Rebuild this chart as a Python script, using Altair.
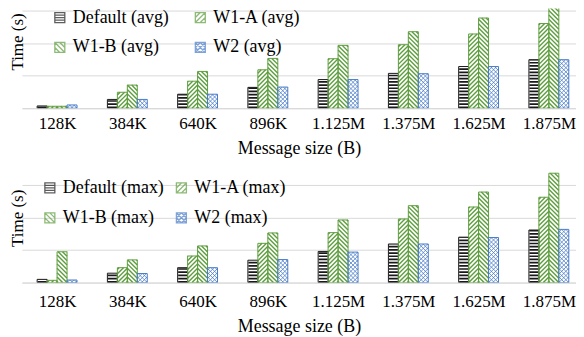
import math
import altair as alt
import pandas as pd

# ---------------- data ----------------
sizes = ["128K", "384K", "640K", "896K", "1.125M", "1.375M", "1.625M", "1.875M"]
series_avg = ["Default (avg)", "W1-A (avg)", "W1-B (avg)", "W2 (avg)"]
series_max = ["Default (max)", "W1-A (max)", "W1-B (max)", "W2 (max)"]

avg_default = [0.07, 0.27, 0.43, 0.64, 0.88, 1.07, 1.28, 1.49]
avg_w1a = [0.06, 0.49, 0.83, 1.18, 1.52, 1.95, 2.28, 2.60]
avg_w1b = [0.06, 0.71, 1.13, 1.53, 1.93, 2.35, 2.77, 3.35]
avg_w2 = [0.10, 0.27, 0.43, 0.65, 0.88, 1.06, 1.28, 1.49]

max_default = [0.10, 0.29, 0.46, 0.69, 0.96, 1.19, 1.40, 1.62]
max_w1a = [0.07, 0.46, 0.82, 1.21, 1.54, 1.96, 2.33, 2.63]
max_w1b = [0.95, 0.70, 1.13, 1.53, 1.93, 2.37, 2.79, 3.37]
max_w2 = [0.08, 0.28, 0.46, 0.71, 0.94, 1.19, 1.39, 1.64]

y_ticks = [0, 1, 2, 3]

# ---------------- style ----------------
FONT = "Liberation Serif, Times New Roman, DejaVu Serif, serif"
GRID = "#d9d9d9"
BLACK = "#1a1a1a"
GREEN = "#5e9e3e"
BLUE = "#4a7cc9"
SERIES_COLORS = [BLACK, GREEN, GREEN, BLUE]

SQ = "M-1,-1H1V1H-1Z"
UP = " M-1,0L0,-1 M-1,1L1,-1 M0,1L1,0"
DOWN = " M-1,0L0,1 M-1,-1L1,1 M0,-1L1,0"
HORIZ = " M-1,-0.5H1 M-1,0H1 M-1,0.5H1"
SHAPES = [SQ + HORIZ, SQ + UP, SQ + DOWN, SQ + UP + DOWN]

W = 556
PX_X = 70.5
X_MIN = -0.5
X_MAX = X_MIN + W / PX_X
BAR_PX = 10.0


def diag_segments(w, h, pitch, rising):
    segs = []
    if h <= 0:
        return segs
    for k in range(math.ceil(-w / pitch), math.floor(h / pitch) + 1):
        c = k * pitch
        if rising:
            u0, u1 = max(0.0, -c), min(w, h - c)
            if u1 - u0 > 0.05:
                segs.append((u0, u0 + c, u1, u1 + c))
        else:
            u0, u1 = max(0.0, w + c - h), min(w, w + c)
            if u1 - u0 > 0.05:
                segs.append((u0, w - u0 + c, u1, w - u1 + c))
    return segs


PATTERNS = {1: [(True, 4.4)], 2: [(False, 4.4)], 3: [(True, 4.2), (False, 4.2)]}


def build(series, values, y_max, height):
    py = height / y_max
    bw = BAR_PX / PX_X
    bar_rows, seg_rows = [], []
    for j, (name, vals) in enumerate(zip(series, values)):
        for i, v in enumerate(vals):
            xc = i + (j - 1.5) * bw
            x0 = xc - bw / 2
            bar_rows.append({"series": name, "kind": j, "size": sizes[i], "xc": xc,
                             "x0": x0, "x1": xc + bw / 2, "v": v, "base": 0.0, "hide": -10.0})
            for rising, pitch in PATTERNS.get(j, []):
                for (u0, y0, u1, y1) in diag_segments(BAR_PX, v * py, pitch, rising):
                    seg_rows.append({"series": name, "kind": j,
                                     "sx": x0 + u0 / PX_X, "sy": y0 / py,
                                     "sx2": x0 + u1 / PX_X, "sy2": y1 / py})
    return pd.DataFrame(bar_rows), pd.DataFrame(seg_rows)


def panel(series, values, y_max, height, lx, ly, colpad, title_y, label_pad):
    bars, segs = build(series, values, y_max, height)
    xs = alt.Scale(domain=[X_MIN, X_MAX], nice=False, zero=False)
    ys = alt.Scale(domain=[0, y_max], nice=False, zero=True)
    label_expr = "[" + ",".join(f"'{s}'" for s in sizes) + "][datum.value]"
    x_axis = alt.Axis(values=list(range(len(sizes))), labelExpr=label_expr,
                      title="Message size (B)", grid=False, ticks=False, tickSize=0,
                      domain=True, domainColor=GRID, labelFont=FONT, labelFontSize=17,
                      labelColor="black", labelPadding=label_pad, labelFlush=False,
                      labelOverlap=False, titleFont=FONT, titleFontSize=18,
                      titleFontWeight="normal", titleColor="black", titlePadding=8)
    y_axis = alt.Axis(values=y_ticks, labels=False, ticks=False, tickSize=0, domain=False,
                      grid=True, gridColor=GRID, title="Time (s)", titleFont=FONT,
                      titleFontSize=17, titleFontWeight="normal", titleColor="black",
                      titleX=5, titleY=title_y)
    legend = alt.Legend(title=None, orient="none", legendX=lx, legendY=ly, columns=2,
                        direction="horizontal",
                        columnPadding=colpad, rowPadding=12, labelFont=FONT,
                        labelFontSize=18, labelColor="black", labelOffset=4,
                        symbolSize=100, symbolStrokeWidth=1.3, padding=0,
                        symbolFillColor="white")
    base = alt.Chart(bars)
    seg = alt.Chart(segs)

    def bx(field):
        return alt.X(field, scale=xs, axis=x_axis)

    def by(field):
        return alt.Y(field, scale=ys, axis=y_axis)

    fill = base.mark_rect(fill="white", clip=True).encode(
        x=bx("x0:Q"), x2="x1:Q", y=by("v:Q"), y2="base:Q")
    stripes = base.transform_filter(alt.datum.kind == 0).mark_rule(
        color=BLACK, strokeWidth=BAR_PX - 1, strokeDash=[1.7, 1.5], clip=True).encode(
        x=bx("xc:Q"), y=by("base:Q"), y2="v:Q")
    green = seg.transform_filter(alt.datum.kind != 3).mark_rule(
        color=GREEN, strokeWidth=1.4, clip=True).encode(
        x=bx("sx:Q"), x2="sx2:Q", y=by("sy:Q"), y2="sy2:Q")
    blue = seg.transform_filter(alt.datum.kind == 3).mark_rule(
        color=BLUE, strokeWidth=0.8, clip=True).encode(
        x=bx("sx:Q"), x2="sx2:Q", y=by("sy:Q"), y2="sy2:Q")
    outlines = []
    for kinds, col in [((0,), BLACK), ((1, 2), GREEN), ((3,), BLUE)]:
        outlines.append(
            base.transform_filter(alt.FieldOneOfPredicate(field="kind", oneOf=list(kinds)))
            .mark_rect(filled=False, stroke=col, strokeWidth=1, clip=True)
            .encode(x=bx("x0:Q"), x2="x1:Q", y=by("v:Q"), y2="base:Q"))
    leg = base.mark_point(filled=False, clip=True).encode(
        x=bx("xc:Q"), y=by("hide:Q"),
        color=alt.Color("series:N", scale=alt.Scale(domain=series, range=SERIES_COLORS),
                        legend=legend, sort=series),
        shape=alt.Shape("series:N", scale=alt.Scale(domain=series, range=SHAPES),
                        legend=legend, sort=series))
    return alt.layer(fill, stripes, green, blue, *outlines, leg).properties(width=W, height=height)


top = panel(series_avg, [avg_default, avg_w1a, avg_w1b, avg_w2], 3.06, 100, 29, 0, 22, 33, 7)
bottom = panel(series_max, [max_default, max_w1a, max_w1b, max_w2], 3.5, 114, 19, 10, 8, 49, 11)

chart = alt.vconcat(top, bottom, spacing=12).resolve_scale(
    color="independent", shape="independent"
).properties(padding={"left": 0, "top": 0, "right": 0, "bottom": 0}).configure_view(stroke=None)

chart.save("out.html", embed_options={"renderer": "svg", "actions": False})
